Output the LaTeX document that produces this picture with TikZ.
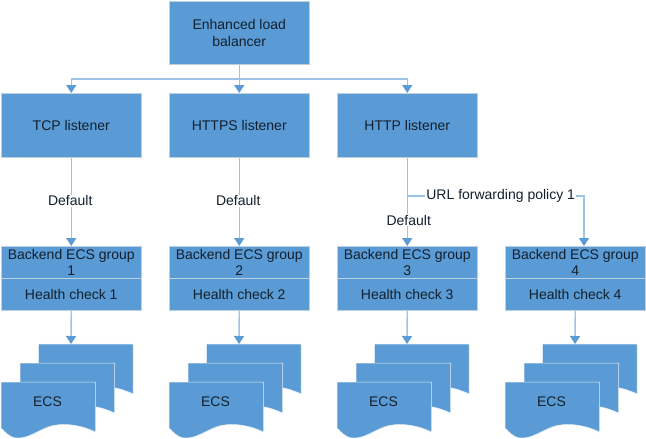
\documentclass[tikz,border=0pt]{standalone}
\usepackage{fontspec}
\setmainfont{Liberation Sans}
\definecolor{boxblue}{HTML}{5B9BD5}
\definecolor{edgeblue}{HTML}{BCD0E2}
\definecolor{lineblue}{HTML}{9DC3E6}
\definecolor{inktext}{HTML}{12202E}
\usetikzlibrary{arrows.meta}
\tikzset{
  x=1pt,y=-1pt,
  box/.style={draw=edgeblue,line width=1pt,fill=boxblue,text=inktext,minimum width=139.5pt,inner sep=0pt,align=center,font=\fontsize{14}{16.5}\selectfont,anchor=north west},
  bigbox/.style={box,minimum height=63.5pt},
  groupbox/.style={box,minimum height=32pt},
  doc/.style={fill=boxblue,draw=edgeblue!40,line width=.5pt},
  conn/.style={draw=lineblue,line width=1.4pt},
  arrow/.style={conn,-{Triangle[length=8pt,width=10pt,fill=boxblue,color=boxblue]}},
  lbl/.style={fill=white,text=inktext,inner sep=1pt,font=\fontsize{14}{16}\selectfont},
  doclabel/.style={text=inktext,inner sep=0pt,font=\fontsize{14}{16}\selectfont}
}
\newcommand{\docshape}[2]{%
  \begin{scope}[shift={(#1,#2)}]
  \path[doc] (0,0) -- (94.5,0) -- (94.5,50)
     .. controls (80,43) and (65,41) .. (52,43.5)
     .. controls (38,47) and (28,57) .. (15,56)
     .. controls (9,55.5) and (4,50) .. (0,46) -- cycle;
  \end{scope}}
\newcommand{\stack}[2]{%
  \docshape{#1+37.7}{344}
  \docshape{#1+19}{363}
  \docshape{#1}{382}
  \node[doclabel] (#2e) at (#1+46.5,402) {ECS};
  \coordinate (#2t) at (#1+70,344);}
\begin{document}
\begin{tikzpicture}
\useasboundingbox (0,0) rectangle (646,439);
\node[bigbox] (lb) at (169,0.5) {Enhanced load\\balancer};
\node[bigbox] (tcp) at (1,93) {TCP listener};
\node[bigbox] (https) at (169,93) {HTTPS listener};
\node[bigbox] (http) at (337,93) {HTTP listener};
\foreach \i/\x in {1/1,2/169,3/337,4/505}{
  \node[groupbox] (g\i) at (\x,246) {Backend ECS group\\\i};
  \node[groupbox] (h\i) at (\x,278) {Health check \i};
}
\stack{1}{a}
\stack{169}{b}
\stack{337}{c}
\stack{505}{d}
\coordinate (bus) at (238.75,79);
\coordinate (split) at (406.75,196);
\coordinate (turn) at (584,196);
\draw[arrow] (lb.south) -- (https.north);
\draw[arrow] (bus) -| (tcp.north);
\draw[arrow] (bus) -| (http.north);
\draw[arrow] (tcp.south) -- node[lbl,pos=.49,xshift=-1pt] {Default} (g1.north);
\draw[arrow] (https.south) -- node[lbl,pos=.49,xshift=-1pt] {Default} (g2.north);
\draw[arrow] (http.south) -- node[lbl,pos=.71,xshift=1.5pt] {Default} (g3.north);
\draw[arrow] (split) -- node[lbl,pos=.53] {URL forwarding policy 1} (turn) -- (turn |- g4.north);
\draw[arrow] (h1.south) -- (at);
\draw[arrow] (h2.south) -- (bt);
\draw[arrow] (h3.south) -- (ct);
\draw[arrow] (h4.south) -- (dt);
\end{tikzpicture}
\end{document}
